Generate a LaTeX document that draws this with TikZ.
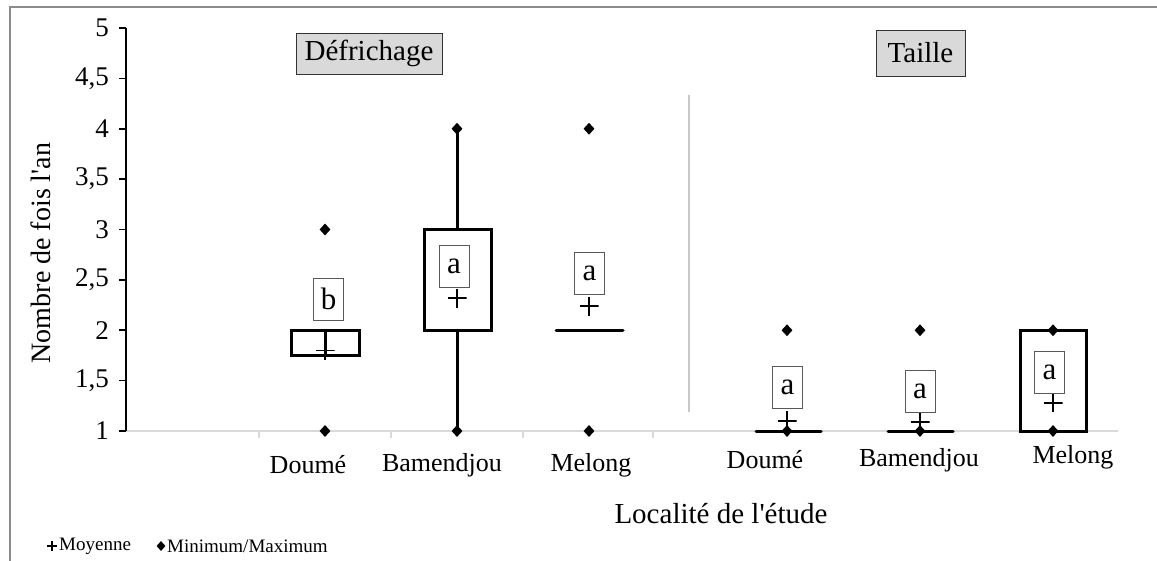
\documentclass[tikz,border=0pt]{standalone}
\usepackage{fontspec}
\setmainfont{Liberation Serif}
\usetikzlibrary{shapes.geometric}
\definecolor{framegray}{HTML}{8C8C8C}
\definecolor{axisgray}{HTML}{D9D9D9}
\definecolor{sepgray}{HTML}{C8C8C8}
\definecolor{titlefill}{HTML}{D9D9D9}
\begin{document}
\begin{tikzpicture}[x=1pt,y=-1pt,
  declare function={Y(\v)=431-(\v-1)*100.75;},
  diam/.style={diamond,fill=black,draw=none,inner sep=0pt,minimum width=11pt,minimum height=12pt},
  meanplus/.style={minimum size=19pt,inner sep=0pt,
    path picture={\draw[line width=1.6pt] (path picture bounding box.west)--(path picture bounding box.east)
      (path picture bounding box.north)--(path picture bounding box.south);}},
  legplus/.style={minimum size=10pt,inner sep=0pt,
    path picture={\draw[line width=2.2pt] (path picture bounding box.west)--(path picture bounding box.east)
      (path picture bounding box.north)--(path picture bounding box.south);}},
  legdiam/.style={diamond,fill=black,inner sep=0pt,minimum width=9pt,minimum height=10pt},
  boxline/.style={line width=3pt,line cap=round},
  ticklab/.style={anchor=east,inner sep=0pt,font=\fontsize{27}{30}\selectfont},
  catlab/.style={inner sep=0pt,font=\fontsize{26}{30}\selectfont},
  lettbox/.style={draw=black!65,line width=0.8pt,minimum width=30pt,minimum height=42pt,inner sep=0pt,font=\fontsize{31}{33}\selectfont},
  titlebox/.style={draw=black!80,line width=0.8pt,fill=titlefill,inner xsep=0pt,inner ysep=0pt,font=\fontsize{29}{32}\selectfont},
  leglab/.style={anchor=west,inner sep=0pt,font=\fontsize{19}{21}\selectfont}
]
\useasboundingbox (0,0) rectangle (1157,561);
% outer frame
\draw[framegray,line width=1.5pt] (10,561) -- (10,7) -- (1157,7);

% x axis (gray) and ticks
\draw[axisgray,line width=2pt] (126,431) -- (1118,431);
\foreach \xx in {259,391,523,653}
  \draw[axisgray,line width=2pt] (\xx,431) -- (\xx,438);

% y axis
\draw[black,line width=1.6pt] (126,{Y(5)}) -- (126,{Y(1)});
\foreach \v/\t in {1/1,1.5/{1,5},2/2,2.5/{2,5},3/3,3.5/{3,5},4/4,4.5/{4,5},5/5}{
  \draw[black,line width=1.6pt] (119,{Y(\v)}) -- (126,{Y(\v)});
  \node[ticklab] at (109,{Y(\v)}) {\t};
}

% separator
\draw[sepgray,line width=2pt] (689,95) -- (689,412);

% titles
\node[titlebox,minimum width=146pt,minimum height=41pt] (tdef) at (369,53.5) {Défrichage};
\node[titlebox,minimum width=89pt,minimum height=46pt] (ttai) at (920.5,53) {Taille};

% axis labels
\node[inner sep=0pt,rotate=90,font=\fontsize{28}{30}\selectfont] (ylab) at (41,253) {Nombre de fois l\textquotesingle an};
\node[inner sep=0pt,font=\fontsize{29}{32}\selectfont] (xlab) at (721,514) {Localité de l\textquotesingle étude};

% category labels
\node[catlab] (c1) at (308,465) {Doumé};
\node[catlab] (c2) at (442,465) {Bamendjou};
\node[catlab] (c3) at (591,465) {Melong};
\node[catlab] (c4) at (765,460) {Doumé};
\node[catlab] (c5) at (919,460) {Bamendjou};
\node[catlab] (c6) at (1073,457) {Melong};

% ---- Défrichage / Doumé (x=325)
\draw[boxline] (291,{Y(1.75)}) rectangle (359,{Y(2)});
\draw[line width=3pt] (325,{Y(2)}) -- (325,356);
\node[diam] (d1min) at (325,{Y(1)}) {};
\node[diam] (d1max) at (325,{Y(3)}) {};
\node[meanplus] (d1mean) at (325,{Y(1.8)}) {};
\node[lettbox] (d1let) at (328.5,299) {b};

% ---- Défrichage / Bamendjou (x=457)
\draw[boxline] (457,{Y(4)}) -- (457,{Y(3)});
\draw[boxline] (457,{Y(2)}) -- (457,{Y(1)});
\draw[boxline] (424,{Y(2)}) rectangle (491,{Y(3)});
\node[diam] (d2min) at (457,{Y(1)}) {};
\node[diam] (d2max) at (457,{Y(4)}) {};
\node[meanplus] (d2mean) at (457,{Y(2.32)}) {};
\node[lettbox] (d2let) at (454,266) {a};

% ---- Défrichage / Melong (x=589)
\draw[boxline] (556,{Y(2)}) -- (623,{Y(2)});
\node[diam] (d3min) at (589,{Y(1)}) {};
\node[diam] (d3max) at (589,{Y(4)}) {};
\node[meanplus] (d3mean) at (589,{Y(2.24)}) {};
\node[lettbox] (d3let) at (589.5,273.5) {a};

% ---- Taille / Doumé (x=787)
\draw[boxline] (756,{Y(1)}) -- (821,{Y(1)});
\node[diam] (t1min) at (787,{Y(1)}) {};
\node[diam] (t1max) at (787,{Y(2)}) {};
\node[meanplus] (t1mean) at (787,{Y(1.1)}) {};
\node[lettbox] (t1let) at (787.5,387.5) {a};

% ---- Taille / Bamendjou (x=920)
\draw[boxline] (888,{Y(1)}) -- (953,{Y(1)});
\node[diam] (t2min) at (920,{Y(1)}) {};
\node[diam] (t2max) at (920,{Y(2)}) {};
\node[meanplus] (t2mean) at (920,{Y(1.09)}) {};
\node[lettbox] (t2let) at (920,391) {a};

% ---- Taille / Melong (x=1053)
\draw[boxline] (1020,{Y(1)}) rectangle (1086,{Y(2)});
\node[diam] (t3min) at (1053,{Y(1)}) {};
\node[diam] (t3max) at (1053,{Y(2)}) {};
\node[meanplus] (t3mean) at (1053,{Y(1.28)}) {};
\node[lettbox] (t3let) at (1049.5,372.5) {a};

% legend
\node[legplus] (lp) at (52,546) {};
\node[leglab] (lpl) at (59,546) {Moyenne};
\node[legdiam] (ld) at (161,546) {};
\node[leglab] (ldl) at (167,546) {Minimum/Maximum};
\end{tikzpicture}
\end{document}
